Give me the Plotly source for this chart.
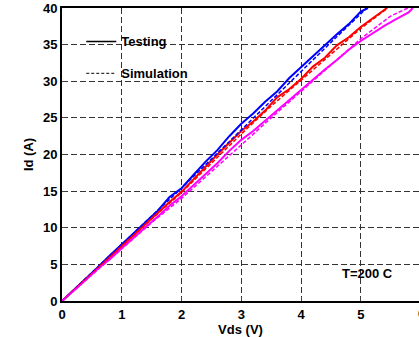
import plotly.graph_objects as go

# Measured Id-Vds curves at T = 200 C (solid = testing, dashed = simulation)
vds_test_blue = [0, 0.2, 0.4, 0.6, 0.8, 1.0, 1.2, 1.4, 1.6, 1.8, 2.0, 2.2, 2.4, 2.6, 2.8,
                 3.0, 3.2, 3.4, 3.6, 3.8, 4.0, 4.2, 4.4, 4.6, 4.8, 5.0, 5.12]
id_test_blue = [0, 1.5, 3.1, 4.6, 6.2, 7.7, 9.3, 10.8, 12.3, 14.2, 15.4, 17.2, 19.0, 20.6, 22.5,
                24.2, 25.6, 27.2, 28.6, 30.4, 31.9, 33.5, 34.9, 36.4, 37.8, 39.5, 40]

vds_test_red = [0, 0.2, 0.4, 0.6, 0.8, 1.0, 1.2, 1.4, 1.6, 1.8, 2.0, 2.2, 2.4, 2.6, 2.8,
                3.0, 3.2, 3.4, 3.6, 3.8, 4.0, 4.2, 4.4, 4.6, 4.8, 5.0, 5.2, 5.4, 5.44]
id_test_red = [0, 1.5, 3.0, 4.5, 6.0, 7.5, 9.1, 10.5, 12.0, 13.5, 14.9, 16.6, 18.4, 20.0, 21.6,
               23.2, 24.5, 26.0, 27.8, 28.9, 30.3, 32.0, 33.2, 34.9, 36.0, 37.4, 38.6, 39.7, 40]

vds_test_mag = [0, 0.2, 0.4, 0.6, 0.8, 1.0, 1.2, 1.4, 1.6, 1.8, 2.0, 2.2, 2.4, 2.6, 2.8,
                3.0, 3.2, 3.4, 3.6, 3.8, 4.0, 4.2, 4.4, 4.6, 4.8, 5.0, 5.2, 5.4, 5.6, 5.8, 5.87]
id_test_mag = [0, 1.4, 2.9, 4.4, 5.7, 7.2, 8.7, 10.1, 11.5, 13.0, 14.3, 15.8, 17.3, 18.8, 20.5,
               22.0, 23.2, 24.6, 26.1, 27.5, 28.9, 30.2, 31.6, 32.9, 34.3, 35.5, 36.6, 37.6, 38.5,
               39.4, 40]

vds_sim_blue = [0, 0.5, 1.0, 1.5, 2.0, 2.5, 3.0, 3.5, 4.0, 4.5, 5.0, 5.1]
id_sim_blue = [0, 3.9, 7.8, 11.6, 15.4, 19.4, 23.4, 27.4, 31.4, 35.3, 39.2, 40]

vds_sim_red = [0, 0.5, 1.0, 1.5, 2.0, 2.5, 3.0, 3.5, 4.0, 4.5, 5.0, 5.45]
id_sim_red = [0, 3.8, 7.5, 11.2, 14.8, 18.8, 22.8, 26.6, 30.1, 33.7, 37.2, 40]

vds_sim_mag = [0, 0.5, 1.0, 1.5, 2.0, 2.5, 3.0, 3.5, 4.0, 4.5, 5.0, 5.5, 5.79]
id_sim_mag = [0, 3.6, 7.2, 10.7, 14.0, 17.6, 21.3, 25.0, 28.6, 32.2, 35.8, 38.9, 40]

x_ticks = [0, 1, 2, 3, 4, 5]
y_ticks = [0, 5, 10, 15, 20, 25, 30, 35, 40]
X_MAX = 5.975

FONT = dict(family="Liberation Sans, Arial, sans-serif", size=13, color="black", weight="bold")

fig = go.Figure()

curves = [
    (vds_test_blue, id_test_blue, "#0000FF", "solid", 2),
    (vds_test_red, id_test_red, "#FF0000", "solid", 2),
    (vds_test_mag, id_test_mag, "#FF00FF", "solid", 2),
    (vds_sim_blue, id_sim_blue, "#0000FF", "4px,2px", 1.5),
    (vds_sim_red, id_sim_red, "#FF0000", "4px,2px", 1.5),
    (vds_sim_mag, id_sim_mag, "#FF00FF", "4px,2px", 1.5),
]
for xs, ys, col, dash, w in curves:
    fig.add_trace(go.Scatter(x=xs, y=ys, mode="lines", showlegend=False,
                             line=dict(color=col, dash=dash, width=w)))

# legend entries
fig.add_trace(go.Scatter(x=[None], y=[None], mode="lines", name="Testing",
                         legendgroup="a", line=dict(color="black", width=1.5)))
fig.add_trace(go.Scatter(x=[None], y=[None], mode="lines", name="Simulation",
                         legendgroup="b", line=dict(color="black", width=1, dash="3px,2px")))

fig.add_annotation(x=5.11, y=3.7, text="T=200 C", showarrow=False, font=FONT,
                   xref="x", yref="y")
# last tick label sits just past the right edge of the plotting area
fig.add_annotation(x=(416 - 62) / 357, y=0, text="6", showarrow=False, font=FONT,
                   xref="paper", yref="paper", xanchor="left", yanchor="top", yshift=-3)

grid = dict(showgrid=True, gridcolor="#333333", griddash="6px,3px", gridwidth=1)

fig.update_layout(
    width=419, height=337,
    margin=dict(l=62, r=0, t=8, b=36),
    paper_bgcolor="white", plot_bgcolor="white",
    font=FONT,
    showlegend=True,
    legend=dict(x=0.054, y=0.937, xanchor="left", yanchor="top", bgcolor="rgba(0,0,0,0)",
                font=FONT, tracegroupgap=12, itemwidth=30),
    xaxis=dict(range=[0, X_MAX], tickvals=x_ticks, ticks="inside", ticklen=4,
               showline=True, linecolor="black", linewidth=2, mirror=True,
               zeroline=False, tickfont=FONT,
               title=dict(text="Vds (V)", font=FONT, standoff=4), **grid),
    yaxis=dict(range=[0, 40], tickvals=y_ticks, ticks="inside", ticklen=4,
               showline=True, linecolor="black", linewidth=2,
               zeroline=False, tickfont=FONT,
               title=dict(text="Id (A)", font=FONT, standoff=6), **grid),
)

fig.write_html("out.html")
